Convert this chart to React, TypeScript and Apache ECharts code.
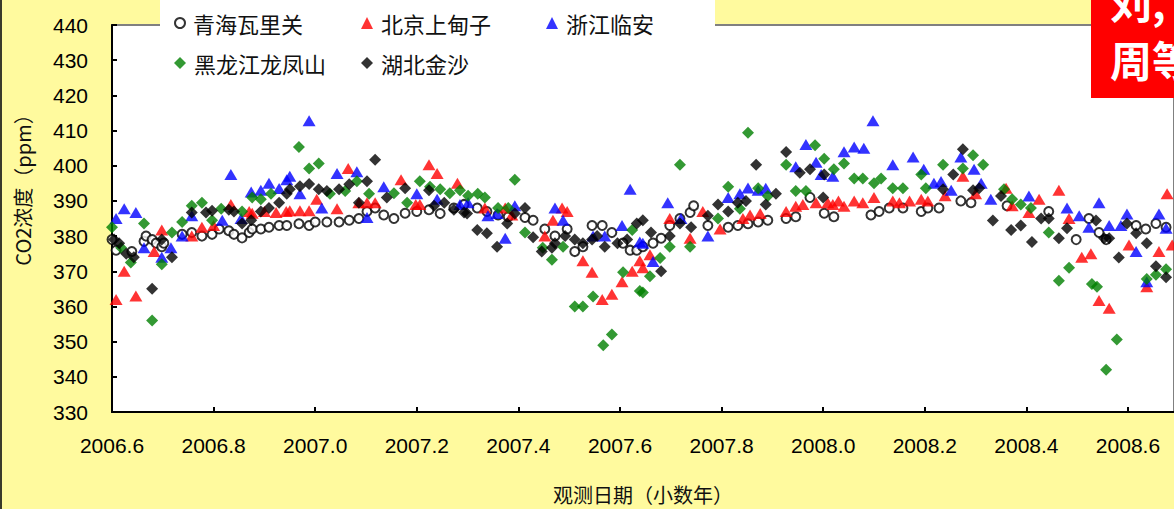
import React, { useEffect, useRef } from "react";
import * as echarts from "echarts";

// 观测日期（小数年）, CO2浓度（ppm）
const waliguan: [number, number][] = [
  [2006.6, 379], [2006.608, 376], [2006.639, 375.6], [2006.663, 378.5], [2006.667, 380], [2006.679, 379],
  [2006.687, 378], [2006.698, 377], [2006.702, 378], [2006.738, 380.5], [2006.757, 381], [2006.777, 380],
  [2006.797, 380.5], [2006.811, 382], [2006.83, 381.5], [2006.84, 380.5], [2006.856, 379.5], [2006.87, 381],
  [2006.876, 382], [2006.893, 382], [2006.909, 382.5], [2006.929, 383], [2006.944, 383], [2006.968, 383.5],
  [2006.988, 383], [2007.0, 384], [2007.023, 384], [2007.047, 384], [2007.067, 384.5], [2007.086, 385],
  [2007.102, 387], [2007.118, 388], [2007.135, 386], [2007.155, 385], [2007.177, 386.5], [2007.2, 387],
  [2007.224, 387.5], [2007.246, 386.4], [2007.273, 388], [2007.293, 389], [2007.319, 388], [2007.338, 387],
  [2007.36, 386], [2007.38, 385.5], [2007.413, 385.3], [2007.429, 384.5], [2007.452, 382], [2007.472, 380],
  [2007.496, 382], [2007.511, 375.6], [2007.527, 377], [2007.545, 383], [2007.565, 383], [2007.584, 381],
  [2007.606, 378], [2007.62, 376], [2007.633, 376], [2007.645, 377], [2007.665, 378], [2007.681, 379.4],
  [2007.698, 383], [2007.718, 385], [2007.738, 386.7], [2007.745, 388.6], [2007.773, 383], [2007.813, 382.5],
  [2007.832, 383], [2007.852, 383.5], [2007.872, 384], [2007.891, 384.5], [2007.927, 385], [2007.946, 385.5],
  [2007.974, 391], [2008.002, 386.5], [2008.021, 385.5], [2008.094, 386], [2008.11, 387], [2008.13, 388],
  [2008.157, 388], [2008.193, 387], [2008.206, 388], [2008.228, 388], [2008.271, 390], [2008.291, 389.5],
  [2008.362, 388.6], [2008.444, 387], [2008.498, 379], [2008.523, 385], [2008.543, 381], [2008.557, 379],
  [2008.616, 383], [2008.635, 382], [2008.655, 383.6], [2008.675, 382.5],
];

const beijing: [number, number][] = [
  [2006.608, 362], [2006.624, 370], [2006.647, 363], [2006.683, 375.6], [2006.698, 381.7], [2006.757, 380],
  [2006.777, 382.5], [2006.8, 383], [2006.834, 389], [2006.87, 387], [2006.876, 386.5], [2006.9, 387],
  [2006.923, 386.7], [2006.943, 387], [2006.95, 387.2], [2006.97, 387.2], [2006.988, 387.2], [2007.003, 390.5],
  [2007.043, 387.8], [2007.065, 399.2], [2007.086, 389.5], [2007.102, 389.5], [2007.118, 389.5], [2007.169, 396],
  [2007.198, 389], [2007.206, 389], [2007.224, 400.3], [2007.24, 397.8], [2007.28, 395], [2007.334, 388],
  [2007.374, 388], [2007.387, 386], [2007.452, 380], [2007.468, 384.5], [2007.486, 388], [2007.496, 387],
  [2007.527, 373], [2007.545, 369.7], [2007.565, 362], [2007.584, 363.5], [2007.604, 367], [2007.624, 370],
  [2007.639, 373], [2007.645, 371], [2007.659, 374.7], [2007.698, 385], [2007.738, 379.4], [2007.763, 387],
  [2007.797, 382], [2007.842, 385], [2007.856, 386], [2007.876, 386.4], [2007.927, 387], [2007.946, 388.5],
  [2007.96, 389], [2007.986, 389.5], [2008.009, 389.5], [2008.019, 389], [2008.03, 390], [2008.041, 388.5],
  [2008.061, 390], [2008.078, 389.5], [2008.1, 391], [2008.137, 390], [2008.15, 389.5], [2008.17, 390],
  [2008.193, 390.5], [2008.206, 390], [2008.24, 391.5], [2008.275, 397], [2008.3, 392], [2008.36, 393.6],
  [2008.372, 388.6], [2008.405, 386.7], [2008.425, 390.5], [2008.464, 393], [2008.484, 385], [2008.509, 374],
  [2008.527, 375], [2008.543, 361.7], [2008.563, 359.5], [2008.602, 377.5], [2008.637, 365.6], [2008.661, 375.6],
  [2008.677, 392], [2008.687, 377.5],
];

const linan: [number, number][] = [
  [2006.608, 385], [2006.624, 387.8], [2006.647, 386.7], [2006.663, 376.7], [2006.698, 374], [2006.716, 376.7],
  [2006.738, 380], [2006.757, 385.8], [2006.817, 384.5], [2006.834, 397.5], [2006.854, 385], [2006.874, 392.5],
  [2006.893, 393], [2006.909, 395], [2006.929, 393.5], [2006.944, 396], [2006.95, 397], [2006.97, 392],
  [2006.988, 412.8], [2007.013, 388], [2007.043, 397.8], [2007.082, 398.3], [2007.102, 385.3], [2007.135, 394],
  [2007.2, 392], [2007.24, 390.5], [2007.285, 389], [2007.301, 389.5], [2007.34, 385.8], [2007.358, 386.4],
  [2007.374, 379.4], [2007.393, 388.6], [2007.472, 388], [2007.488, 384.5], [2007.547, 380], [2007.57, 380],
  [2007.604, 383], [2007.62, 393.3], [2007.639, 378.3], [2007.645, 378], [2007.665, 372.8], [2007.694, 389.5],
  [2007.72, 385], [2007.773, 380], [2007.813, 391], [2007.836, 392], [2007.852, 393.7], [2007.872, 393],
  [2007.887, 393.6], [2007.946, 399.7], [2007.966, 406], [2007.986, 401], [2007.996, 397.5], [2008.019, 397],
  [2008.041, 404], [2008.061, 405.3], [2008.08, 405], [2008.098, 412.8], [2008.137, 400.3], [2008.177, 402.5],
  [2008.198, 399], [2008.218, 395], [2008.232, 395.5], [2008.252, 393], [2008.271, 402.5], [2008.297, 399],
  [2008.311, 395], [2008.33, 390.5], [2008.405, 391.4], [2008.48, 388], [2008.504, 385.8], [2008.523, 382.5],
  [2008.543, 389.5], [2008.563, 383], [2008.586, 383], [2008.598, 386.3], [2008.616, 375.6], [2008.637, 367],
  [2008.661, 386.3], [2008.675, 382.2],
];

const longfengshan: [number, number][] = [
  [2006.6, 382.5], [2006.618, 376.7], [2006.637, 372.5], [2006.663, 383.6], [2006.679, 356], [2006.698, 372],
  [2006.718, 381], [2006.738, 384], [2006.757, 388.6], [2006.777, 389.5], [2006.797, 384.5], [2006.815, 387.8],
  [2006.856, 387], [2006.876, 391], [2006.893, 390.5], [2006.913, 392], [2006.968, 405.3], [2006.988, 399.2],
  [2007.007, 400.6], [2007.029, 392], [2007.059, 392.8], [2007.082, 395.6], [2007.106, 392], [2007.155, 392.2],
  [2007.181, 389.5], [2007.206, 395.6], [2007.226, 394], [2007.246, 393.3], [2007.265, 392.2], [2007.285, 393],
  [2007.301, 391.5], [2007.32, 392], [2007.334, 391], [2007.36, 388], [2007.38, 388], [2007.393, 396],
  [2007.413, 381], [2007.448, 376.7], [2007.466, 373.3], [2007.488, 377], [2007.511, 360], [2007.527, 360],
  [2007.547, 362.8], [2007.567, 349], [2007.584, 352], [2007.606, 369.7], [2007.624, 381.7], [2007.639, 364.4],
  [2007.645, 364], [2007.659, 368.6], [2007.679, 373.8], [2007.698, 377], [2007.718, 400.3], [2007.738, 377],
  [2007.793, 385], [2007.813, 394], [2007.836, 387.8], [2007.852, 409.4], [2007.872, 393.6], [2007.891, 391.4],
  [2007.927, 400.3], [2007.946, 392.8], [2007.966, 392.8], [2007.984, 405.8], [2008.002, 402], [2008.021, 399],
  [2008.041, 400.6], [2008.061, 396.4], [2008.078, 396.4], [2008.1, 395], [2008.114, 396.4], [2008.137, 393.6],
  [2008.157, 393.6], [2008.193, 397.5], [2008.202, 393.6], [2008.236, 400.3], [2008.275, 399.2], [2008.295, 403],
  [2008.315, 400.3], [2008.356, 393.3], [2008.372, 390.5], [2008.389, 389], [2008.409, 388], [2008.444, 381],
  [2008.464, 367.3], [2008.484, 371], [2008.529, 366.4], [2008.539, 365.6], [2008.557, 342], [2008.578, 350.6],
  [2008.637, 367.8], [2008.655, 369], [2008.675, 370.6],
];

const jinsha: [number, number][] = [
  [2006.604, 379], [2006.614, 378], [2006.628, 375], [2006.643, 374], [2006.679, 365], [2006.698, 379],
  [2006.718, 374], [2006.757, 386.7], [2006.785, 386.7], [2006.797, 387.2], [2006.83, 387.5], [2006.84, 387],
  [2006.856, 383.6], [2006.874, 384.5], [2006.893, 387], [2006.909, 388], [2006.929, 389.5], [2006.944, 392],
  [2006.95, 393.3], [2006.97, 394.2], [2006.988, 394.8], [2007.007, 393.3], [2007.023, 392.8], [2007.047, 393.3],
  [2007.067, 394.7], [2007.086, 389.5], [2007.102, 395.6], [2007.118, 401.7], [2007.141, 391], [2007.177, 393.6],
  [2007.224, 393], [2007.234, 388.6], [2007.254, 389.5], [2007.273, 387.5], [2007.293, 386.7], [2007.299, 386.4],
  [2007.319, 381.7], [2007.338, 380.8], [2007.358, 377], [2007.378, 383.6], [2007.393, 386.4], [2007.413, 388],
  [2007.429, 379.7], [2007.446, 375.6], [2007.466, 376.7], [2007.472, 378], [2007.492, 380], [2007.511, 379],
  [2007.527, 378], [2007.545, 379], [2007.555, 380], [2007.57, 377], [2007.595, 378], [2007.614, 379],
  [2007.633, 383.6], [2007.645, 384.5], [2007.661, 381], [2007.681, 370], [2007.698, 380], [2007.718, 383.6],
  [2007.74, 382.5], [2007.773, 385.8], [2007.793, 389], [2007.813, 387], [2007.832, 389.5], [2007.848, 390],
  [2007.868, 400.3], [2007.887, 389], [2007.907, 392], [2007.927, 403.9], [2007.954, 398], [2007.974, 399],
  [2008.002, 397.5], [2008.0, 391], [2008.236, 393.3], [2008.256, 397.5], [2008.275, 404.7], [2008.295, 393],
  [2008.307, 393.6], [2008.334, 384.4], [2008.35, 391.4], [2008.37, 381.7], [2008.389, 383], [2008.411, 378.3],
  [2008.429, 385], [2008.444, 385], [2008.464, 379.4], [2008.48, 382.2], [2008.537, 384.4], [2008.553, 379.4],
  [2008.563, 379.4], [2008.582, 373.9], [2008.598, 383.6], [2008.616, 380.8], [2008.637, 378], [2008.655, 371.4],
  [2008.675, 368.3],
];

const seriesNames = ["青海瓦里关", "北京上甸子", "浙江临安", "黑龙江龙凤山", "湖北金沙"];
const xAxisName = "观测日期（小数年）";
const yAxisName = "CO2浓度（ppm）";

const numFont = "'Liberation Sans', Arial, sans-serif";
const cjkFont = "'Noto Sans CJK SC', sans-serif";

export default function App() {
  const ref = useRef<HTMLDivElement>(null);
  useEffect(() => {
    document.body.style.margin = "0";
    const chart = echarts.init(ref.current as HTMLDivElement, undefined, { renderer: "svg" });
    const legendPos: [number, number, string][] = [
      [174, 11, "emptyCircle"],
      [361, 11, "triangle"],
      [546, 11, "triangle"],
      [174, 51, "diamond"],
      [361, 51, "diamond"],
    ];
    const legends = seriesNames.map((n, i) => ({
      left: legendPos[i][0],
      top: legendPos[i][1],
      padding: 0,
      z: 10,
      itemWidth: i === 0 ? 10 : 12,
      itemHeight: i === 0 ? 10 : 12,
      selectedMode: false,
      data: [{ name: n, icon: legendPos[i][2] }],
      textStyle: { fontSize: 22, color: "#111", fontFamily: cjkFont, lineHeight: 24, padding: [0, 0, 0, 3] },
    }));
    chart.setOption({
      animation: false,
      backgroundColor: "#fffa9e",
      grid: {
        left: 112,
        top: 25,
        right: 0,
        bottom: 88,
        show: true,
        backgroundColor: "#ffffff",
        borderColor: "#808080",
        borderWidth: 2,
      },
      legend: legends,
      xAxis: {
        type: "value",
        min: 2006.6,
        max: 2008.6906,
        interval: 0.2,
        name: xAxisName,
        nameLocation: "middle",
        nameGap: 72,
        nameTextStyle: { fontSize: 20, color: "#111", fontFamily: cjkFont },
        axisLine: { show: true, onZero: false, lineStyle: { color: "#000", width: 2 } },
        axisTick: { show: true, inside: true, length: 5, lineStyle: { color: "#000", width: 2 } },
        axisLabel: {
          margin: 23,
          fontSize: 21,
          color: "#000",
          fontFamily: numFont,
          showMaxLabel: false,
          formatter: (v: number) => {
            const k = v / 0.2;
            return Math.abs(k - Math.round(k)) < 1e-6 ? v.toFixed(1) : "";
          },
        },
        splitLine: { show: false },
      },
      yAxis: {
        type: "value",
        min: 330,
        max: 440,
        interval: 10,
        axisLine: { show: true, lineStyle: { color: "#000", width: 2 } },
        axisTick: { show: true, inside: true, length: 5, lineStyle: { color: "#000", width: 2 } },
        axisLabel: { margin: 24, fontSize: 21, color: "#000", fontFamily: numFont },
        splitLine: { show: false },
      },
      graphic: [
        { type: "rect", left: 0, top: 0, shape: { width: 2, height: 509 }, style: { fill: "#3a3a2a" }, z: 20 },
        { type: "rect", left: 160, top: 0, shape: { width: 555, height: 85 }, style: { fill: "#ffffff" }, z: 5 },
        {
          type: "text",
          x: 22,
          y: 185,
          rotation: Math.PI / 2,
          style: {
            text: yAxisName,
            fontSize: 20,
            fill: "#111",
            fontFamily: cjkFont,
            textAlign: "center",
            textVerticalAlign: "middle",
          },
          z: 20,
        },
        { type: "rect", left: 1091, top: 0, shape: { width: 83, height: 98 }, style: { fill: "#ff0000" }, z: 20 },
        {
          type: "text",
          x: 1110,
          y: 0,
          style: { text: "刘,", fontSize: 42, fontWeight: "bold", fill: "#fff", fontFamily: cjkFont, textVerticalAlign: "middle" },
          z: 21,
        },
        {
          type: "text",
          x: 1110,
          y: 58,
          style: { text: "周等", fontSize: 42, fontWeight: "bold", fill: "#fff", fontFamily: cjkFont, textVerticalAlign: "middle" },
          z: 21,
        },
      ],
      series: [
        {
          name: seriesNames[0],
          type: "scatter",
          data: waliguan,
          symbol: "emptyCircle",
          symbolSize: 9,
          itemStyle: { color: "#000", borderWidth: 1.8 },
        },
        {
          name: seriesNames[1],
          type: "scatter",
          data: beijing,
          symbol: "triangle",
          symbolSize: [13, 11],
          itemStyle: { color: "#ff0000" },
        },
        {
          name: seriesNames[2],
          type: "scatter",
          data: linan,
          symbol: "triangle",
          symbolSize: [13, 11],
          itemStyle: { color: "#0000ff" },
        },
        {
          name: seriesNames[3],
          type: "scatter",
          data: longfengshan,
          symbol: "diamond",
          symbolSize: [12, 12],
          itemStyle: { color: "#008000" },
        },
        {
          name: seriesNames[4],
          type: "scatter",
          data: jinsha,
          symbol: "diamond",
          symbolSize: [12, 12],
          itemStyle: { color: "#000000" },
        },
      ],
    });
    return () => chart.dispose();
  }, []);
  return <div ref={ref} style={{ position: "fixed", left: 0, top: 0, width: 1174, height: 509 }} />;
}
